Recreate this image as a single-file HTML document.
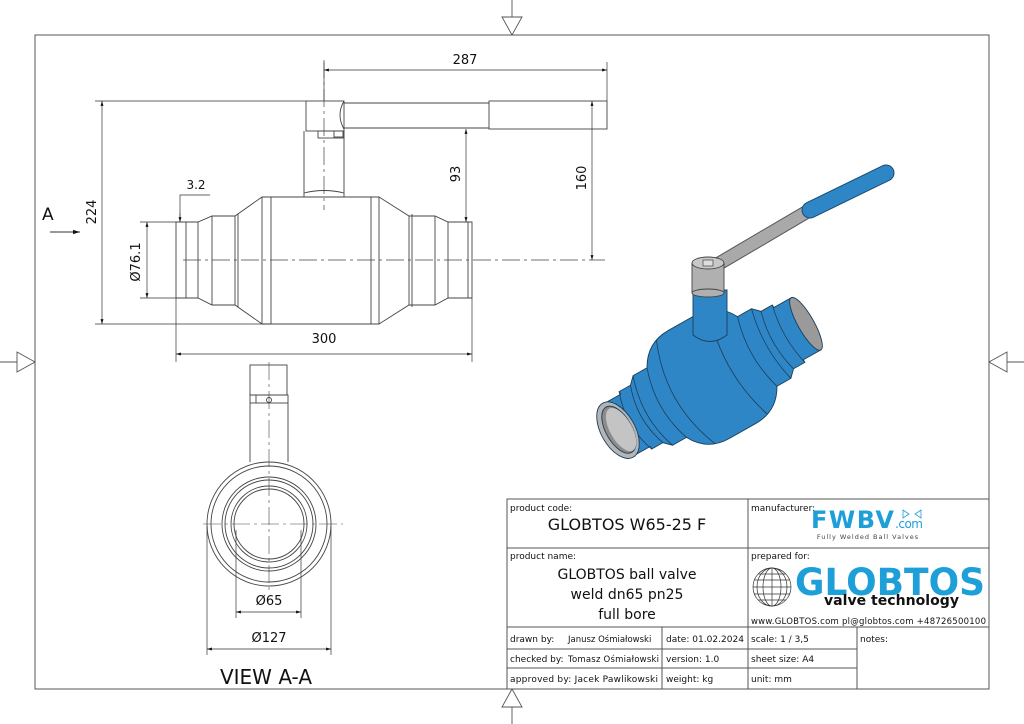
<!DOCTYPE html>
<html><head><meta charset="utf-8"><style>
html,body{margin:0;padding:0;background:#fff;}
svg{display:block;}
text{font-family:"DejaVu Sans","Liberation Sans",sans-serif;fill:#111;}
</style></head><body>
<svg width="1024" height="724" viewBox="0 0 1024 724" xmlns="http://www.w3.org/2000/svg">
<defs>
<marker id="ar" viewBox="0 0 10 10" refX="10" refY="5" markerWidth="7" markerHeight="7" orient="auto-start-reverse"><path d="M0,2 L10,5 L0,8 z" fill="#111"/></marker>
</defs>
<rect width="1024" height="724" fill="#fff"/>
<rect x="35" y="35" width="954" height="654" fill="none" stroke="#555" stroke-width="1"/>
<g stroke="#555" fill="#fff" stroke-width="0.9">
<line x1="512" y1="0" x2="512" y2="35"/><path d="M502,17 L522,17 L512,35 z"/>
<line x1="512" y1="689" x2="512" y2="724"/><path d="M502,707 L522,707 L512,689 z"/>
<line x1="0" y1="362" x2="35" y2="362"/><path d="M17,352 L17,372 L35,362 z"/>
<line x1="989" y1="362" x2="1024" y2="362"/><path d="M1007,352 L1007,372 L989,362 z"/>
</g>

<!-- front view -->
<g stroke="#444" stroke-width="0.9" fill="none">
<rect x="306" y="101" width="38" height="30"/>
<path d="M344,101 Q336,115 344,129"/>
<line x1="344" y1="103" x2="489" y2="103"/>
<line x1="344" y1="128" x2="489" y2="128"/>
<rect x="489" y="101" width="118" height="28"/>
<path d="M304,131 L304,193 Q324,188 344,193 L344,131"/>
<rect x="318" y="131" width="26" height="7"/>
<rect x="334" y="131" width="9" height="6"/>
<path d="M304,193 L304,197 M344,193 L344,197"/>
<path d="M176,222 L186,222 L198,222 L212,216 L235,216 L262,197 L379,197 L409,216 L435,216 L448,222 L472,222 L472,298 L448,298 L435,305 L409,305 L379,324 L262,324 L235,305 L212,305 L198,298 L176,298 Z"/>
<line x1="186" y1="222" x2="186" y2="298"/>
<line x1="198" y1="222" x2="198" y2="298"/>
<line x1="212" y1="216" x2="212" y2="305"/>
<line x1="235" y1="216" x2="235" y2="305"/>
<line x1="238" y1="214" x2="238" y2="307"/>
<line x1="262" y1="197" x2="262" y2="324"/>
<line x1="271" y1="197" x2="271" y2="324"/>
<line x1="379" y1="197" x2="379" y2="324"/>
<line x1="371" y1="197" x2="371" y2="324"/>
<line x1="409" y1="216" x2="409" y2="305"/>
<line x1="412" y1="214" x2="412" y2="307"/>
<line x1="435" y1="216" x2="435" y2="305"/>
<line x1="448" y1="222" x2="448" y2="298"/>
<line x1="468" y1="222" x2="468" y2="298"/>
</g>
<g stroke="#444" stroke-width="0.7" fill="none" stroke-dasharray="18,4,3,4">
<line x1="183" y1="260" x2="605" y2="260"/>
<line x1="324" y1="60" x2="324" y2="210"/>
</g>
<g stroke="#333" stroke-width="0.7" fill="none">
<line x1="95" y1="101" x2="306" y2="101"/>
<line x1="95" y1="324" x2="271" y2="324"/>
<line x1="102" y1="101" x2="102" y2="324" marker-start="url(#ar)" marker-end="url(#ar)"/>
<line x1="324" y1="62" x2="324" y2="101"/>
<line x1="607" y1="62" x2="607" y2="101"/>
<line x1="324" y1="70" x2="607" y2="70" marker-start="url(#ar)" marker-end="url(#ar)"/>
<line x1="592" y1="101" x2="592" y2="260" marker-start="url(#ar)" marker-end="url(#ar)"/>
<line x1="466" y1="129" x2="466" y2="222" marker-start="url(#ar)" marker-end="url(#ar)"/>
<line x1="140" y1="222" x2="176" y2="222"/>
<line x1="140" y1="298" x2="176" y2="298"/>
<line x1="147" y1="222" x2="147" y2="298" marker-start="url(#ar)" marker-end="url(#ar)"/>
<line x1="176" y1="298" x2="176" y2="362"/>
<line x1="472" y1="298" x2="472" y2="362"/>
<line x1="176" y1="354" x2="472" y2="354" marker-start="url(#ar)" marker-end="url(#ar)"/>
<polyline points="210,195 180,195 180,222"/>
<line x1="180" y1="213" x2="180" y2="222" marker-end="url(#ar)"/>
<line x1="50" y1="232" x2="80" y2="232" marker-end="url(#ar)" stroke-width="1"/>
</g>
<g font-size="13">
<text x="465" y="64" text-anchor="middle">287</text>
<text x="324" y="343" text-anchor="middle">300</text>
<text x="196" y="189" text-anchor="middle" font-size="12">3.2</text>
<text transform="translate(96,212) rotate(-90)" text-anchor="middle">224</text>
<text transform="translate(586,178) rotate(-90)" text-anchor="middle">160</text>
<text transform="translate(460,174) rotate(-90)" text-anchor="middle">93</text>
<text transform="translate(140,262) rotate(-90)" text-anchor="middle">Ø76.1</text>
<text x="42" y="220" font-size="17">A</text>
</g>

<!-- view A-A -->
<g stroke="#444" stroke-width="0.9" fill="none">
<rect x="250" y="365" width="37" height="30"/>
<rect x="250" y="395" width="38" height="8"/>
<line x1="256" y1="395" x2="256" y2="403"/>
<circle cx="269" cy="400" r="2.5"/>
<path d="M250,403 L250,462 M288,403 L288,462"/>
<circle cx="269" cy="524" r="62"/>
<circle cx="269" cy="524" r="58"/>
<circle cx="269" cy="524" r="47"/>
<circle cx="269" cy="524" r="44"/>
<circle cx="269" cy="524" r="38"/>
<circle cx="269" cy="524" r="35"/>
</g>
<g stroke="#444" stroke-width="0.6" stroke-dasharray="18,4,3,4">
<line x1="203" y1="524" x2="343" y2="524"/>
<line x1="269" y1="362" x2="269" y2="590"/>
</g>
<g stroke="#333" stroke-width="0.7" fill="none">
<line x1="236" y1="530" x2="236" y2="618"/>
<line x1="301" y1="530" x2="301" y2="618"/>
<line x1="236" y1="612" x2="301" y2="612" marker-start="url(#ar)" marker-end="url(#ar)"/>
<line x1="207" y1="526" x2="207" y2="655"/>
<line x1="331" y1="526" x2="331" y2="655"/>
<line x1="207" y1="649" x2="331" y2="649" marker-start="url(#ar)" marker-end="url(#ar)"/>
</g>
<text x="269" y="605" text-anchor="middle" font-size="13">Ø65</text>
<text x="269" y="642" text-anchor="middle" font-size="13">Ø127</text>
<text x="266" y="684" text-anchor="middle" font-size="20">VIEW A-A</text>

<!-- 3D view -->
<g>
<line x1="708" y1="270" x2="810" y2="210" stroke="#555" stroke-width="14" stroke-linecap="round"/>
<line x1="708" y1="270" x2="810" y2="210" stroke="#a9a9a9" stroke-width="12" stroke-linecap="round"/>
<line x1="810" y1="210" x2="886" y2="173" stroke="#1a4a70" stroke-width="17" stroke-linecap="round"/>
<line x1="810" y1="210" x2="886" y2="173" stroke="#2f86c6" stroke-width="15" stroke-linecap="round"/>
<g transform="translate(712,377) rotate(-29.5)" stroke="#1a3e5c" stroke-width="0.9">
<path d="M-108,-30 L-88,-30 L-88,-33 L-75,-33 L-68,-40 L-52,-40 Q-40,-62 -15,-62 L15,-62 Q40,-62 52,-40 L68,-40 L75,-33 L88,-33 L88,-30 L108,-30 L108,30 L88,30 L88,33 L75,33 L68,40 L52,40 Q40,62 15,62 L-15,62 Q-40,62 -52,40 L-68,40 L-75,33 L-88,33 L-88,30 L-108,30 Z" fill="#2f86c6"/>
<ellipse cx="108" cy="0" rx="8" ry="30" fill="#9a9a9a"/>
<g fill="none" stroke-width="0.8">
<path d="M-88,-33 Q-100,0 -88,33"/>
<path d="M-75,-33 Q-87,0 -75,33"/>
<path d="M-68,-40 Q-82,0 -68,40"/>
<path d="M-52,-40 Q-66,0 -52,40"/>
<path d="M-30,-60 Q-55,0 -30,60"/>
<path d="M30,-60 Q10,0 30,60"/>
<path d="M52,-40 Q40,0 52,40"/>
<path d="M68,-40 Q58,0 68,40"/>
<path d="M75,-33 Q66,0 75,33"/>
<path d="M88,-33 Q80,0 88,33"/>
</g>
<ellipse cx="-108" cy="0" rx="17" ry="31" fill="#b5b5b5"/>
<ellipse cx="-107" cy="0" rx="13" ry="26" fill="#8c8c8c"/>
<ellipse cx="-105" cy="1" rx="11" ry="24" fill="#c4c4c4" stroke="none"/>
</g>
<path d="M693,290 L693,335 Q710,348 727,335 L727,290 Z" fill="#2f86c6" stroke="#1a3e5c" stroke-width="0.9"/>
<rect x="692" y="263" width="32" height="30" fill="#b0b0b0" stroke="#444" stroke-width="0.9"/>
<ellipse cx="708" cy="293" rx="16" ry="4" fill="#b0b0b0" stroke="#444" stroke-width="0.9"/>
<ellipse cx="708" cy="263" rx="16" ry="6" fill="#c8c8c8" stroke="#444" stroke-width="0.9"/>
<rect x="703" y="260" width="10" height="6" fill="#ddd" stroke="#444" stroke-width="0.7"/>
</g>

<!-- title block -->
<g stroke="#555" stroke-width="1" fill="none">
<rect x="507" y="499" width="482" height="190" fill="#fff"/>
<line x1="748" y1="499" x2="748" y2="689"/>
<line x1="507" y1="548" x2="989" y2="548"/>
<line x1="507" y1="627" x2="989" y2="627"/>
<line x1="507" y1="649" x2="857" y2="649"/>
<line x1="507" y1="668" x2="857" y2="668"/>
<line x1="662" y1="627" x2="662" y2="689"/>
<line x1="857" y1="627" x2="857" y2="689"/>
</g>
<g font-size="9">
<text x="510" y="511">product code:</text>
<text x="627" y="530" text-anchor="middle" font-size="16">GLOBTOS W65-25 F</text>
<text x="510" y="559">product name:</text>
<text x="627" y="579" text-anchor="middle" font-size="14">GLOBTOS ball valve</text>
<text x="627" y="599" text-anchor="middle" font-size="14">weld dn65 pn25</text>
<text x="627" y="619" text-anchor="middle" font-size="14">full bore</text>
<text x="751" y="511">manufacturer:</text>
<text x="751" y="559">prepared for:</text>
<text x="510" y="642">drawn by:</text><text x="568" y="642" font-size="8.5">Janusz Ośmiałowski</text>
<text x="510" y="662">checked by:</text><text x="568" y="662" font-size="8.5" textLength="91">Tomasz Ośmiałowski</text>
<text x="510" y="682" textLength="148">approved by: Jacek Pawlikowski</text>
<text x="666" y="642" textLength="78">date: 01.02.2024</text>
<text x="666" y="662">version:  1.0</text>
<text x="666" y="682">weight:  kg</text>
<text x="751" y="642">scale: 1 / 3,5</text>
<text x="751" y="662">sheet size:  A4</text>
<text x="751" y="682">unit:  mm</text>
<text x="860" y="642">notes:</text>
<text x="751" y="624" font-size="8.5" textLength="235">www.GLOBTOS.com   pl@globtos.com   +48726500100</text>
</g>
<text x="811" y="528" font-family="Liberation Sans,sans-serif" font-weight="bold" font-size="24" textLength="83" style="fill:#1e9fd8">FWBV</text>
<text x="895" y="528" font-family="Liberation Sans,sans-serif" font-size="12" textLength="28" style="fill:#1e9fd8">.com</text>
<path d="M903,510 l6,4 l-6,4 z M921,510 l-6,4 l6,4 z" fill="none" stroke="#1e9fd8" stroke-width="0.8"/>
<text x="868" y="539" text-anchor="middle" font-size="6.5" style="fill:#444" letter-spacing="1">Fully Welded Ball Valves</text>
<text x="795" y="595" font-family="Liberation Sans,sans-serif" font-weight="bold" font-size="37" textLength="190" lengthAdjust="spacingAndGlyphs" style="fill:#1e9fd8">GLOBTOS</text>
<text x="824" y="605" font-family="Liberation Mono,monospace" font-weight="bold" font-size="14" textLength="135" lengthAdjust="spacingAndGlyphs">valve technology</text>
<g stroke="#333" stroke-width="0.7" fill="none">
<circle cx="772" cy="587" r="19"/>
<ellipse cx="772" cy="587" rx="9" ry="19"/>
<ellipse cx="772" cy="587" rx="15" ry="19"/>
<line x1="772" y1="568" x2="772" y2="606"/>
<line x1="754" y1="580" x2="790" y2="580"/><line x1="753" y1="587" x2="791" y2="587"/><line x1="754" y1="594" x2="790" y2="594"/>
<line x1="758" y1="574" x2="786" y2="574"/><line x1="758" y1="600" x2="786" y2="600"/>
</g>
</svg>
</body></html>
